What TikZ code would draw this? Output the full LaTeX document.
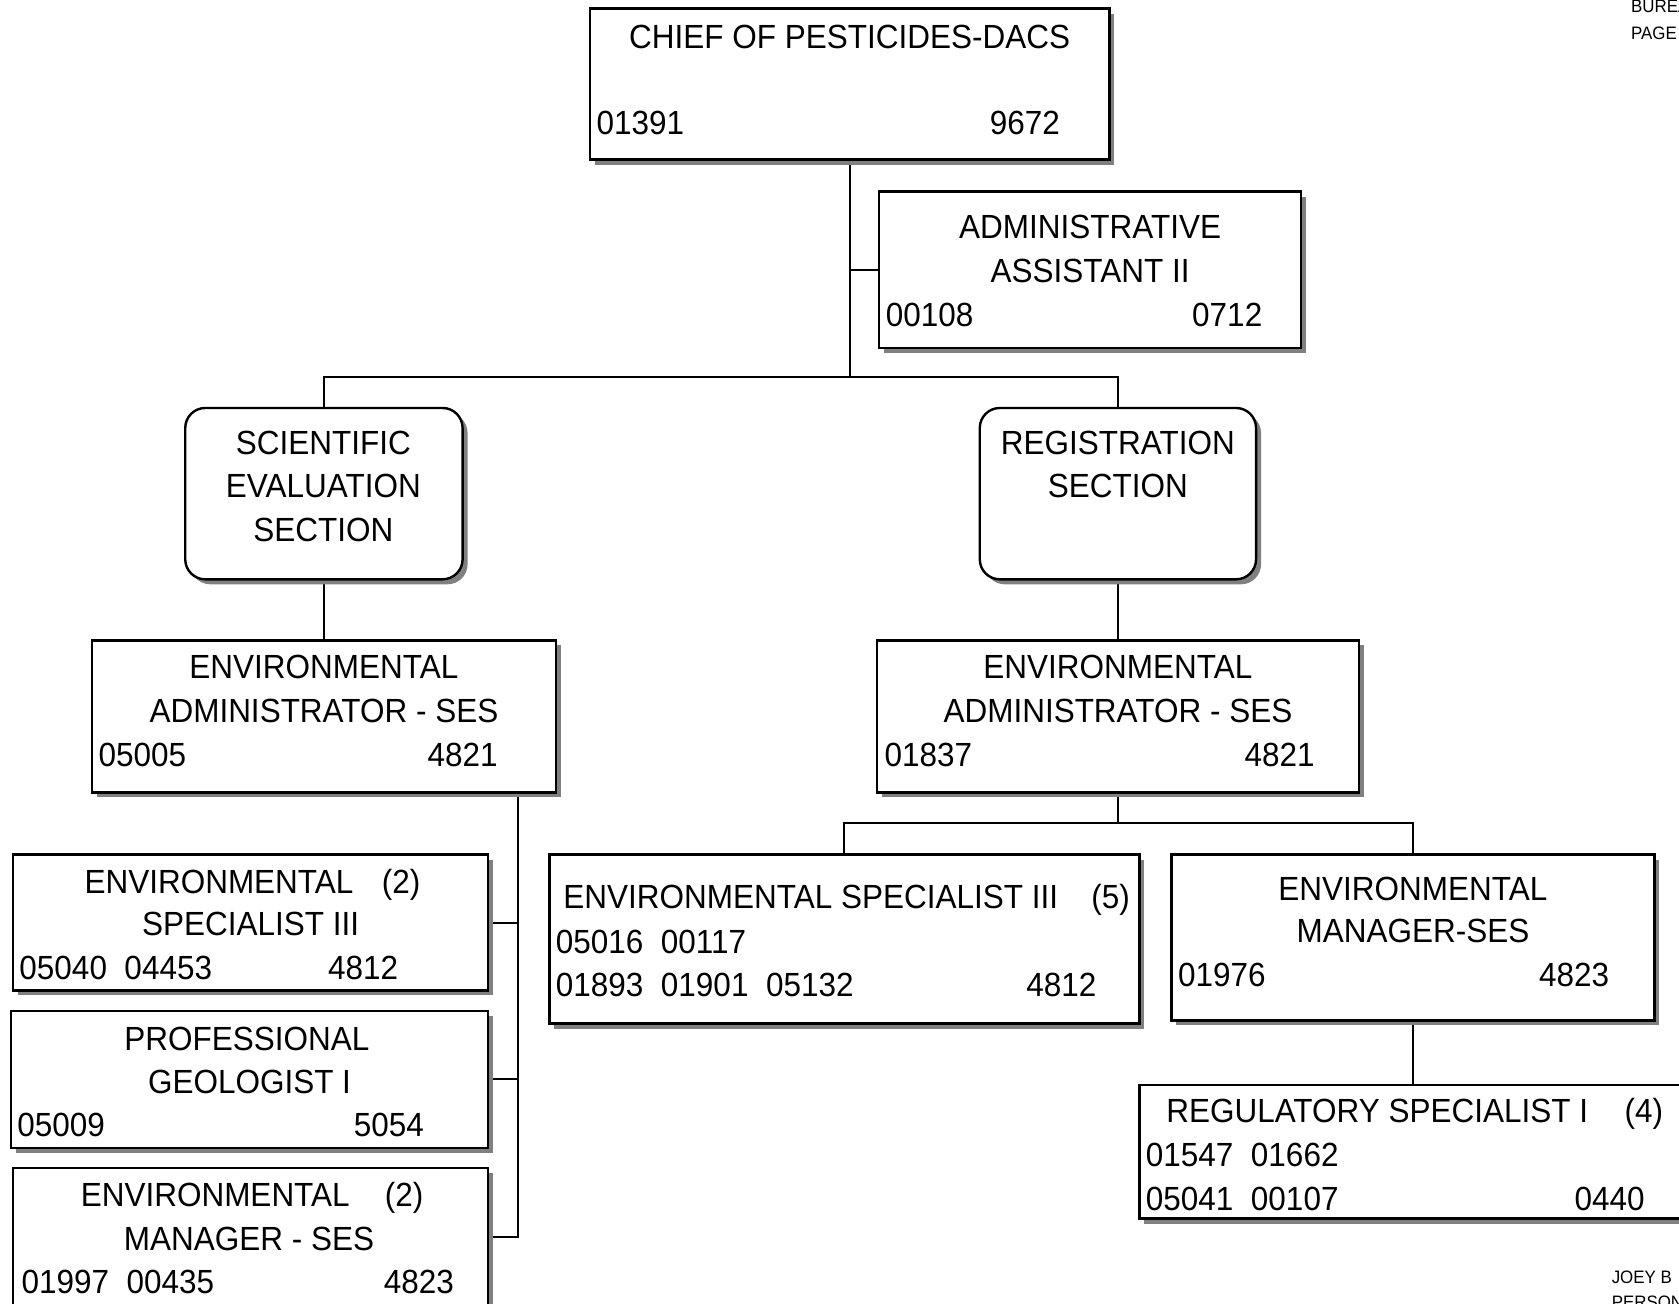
\documentclass[tikz,border=0pt]{standalone}
\usepackage{fontspec}
\setmainfont{Liberation Sans}[FakeStretch=0.94]
\usetikzlibrary{fit,shadows}
\pgfdeclarelayer{paper}
\pgfdeclarelayer{wires}
\pgfsetlayers{paper,wires,main}
\begin{document}
\begin{tikzpicture}[x=1.0708pt,y=-1.0708pt,
  box/.style={draw=black, line width=2.4pt, fill=white, inner sep=0pt, outer sep=0pt,
    drop shadow={shadow xshift=5pt, shadow yshift=-5pt, fill=black!50, opacity=1}},
  sect/.style={box, rounded corners=20pt},
  link/.style={draw=black, line width=2pt},
  t/.style={inner sep=0pt, font=\fontsize{33.5}{40}\selectfont, anchor=base},
  tl/.style={t, anchor=base west},
  tr/.style={t, anchor=base east},
  note/.style={inner sep=0pt, font=\fontsize{18}{21}\selectfont, anchor=base west},
]
\useasboundingbox (0,0) rectangle (1568,1217);
\clip (0,0) rectangle (1568,1217);
\begin{pgfonlayer}{paper}
  \fill[white] (0,0) rectangle (1568,1217);
\end{pgfonlayer}

% ---------- boxes ----------
\node[box, fit={(551,8) (1036,149)}] (chief) {};
\node[box, fit={(821,179) (1215,325)}] (admin) {};
\node[sect, fit={(173,381) (432,541)}] (scisec) {};
\node[sect, fit={(915,381) (1173,541)}] (regsec) {};
\node[box, fit={(86,598) (519,740)}] (envadmL) {};
\node[box, fit={(819,598) (1269,740)}] (envadmR) {};
\node[box, fit={(12,798) (456,925)}] (specL) {};
\node[box, fit={(10,944) (456,1072)}] (geoL) {};
\node[box, fit={(12,1091) (456,1245)}] (mgrL) {};
\node[box, fit={(513,798) (1064,956)}] (specR) {};
\node[box, fit={(1094,798) (1545,953)}] (mgrR) {};
\node[box, fit={(1064,1013) (1590,1138)}] (regspec) {};

% ---------- connectors ----------
\coordinate (tbar) at (793.5,352);
\coordinate (lspine) at (484,1155);
\coordinate (rbar) at (1044,769);
\begin{pgfonlayer}{wires}
  \draw[link] (chief.south) -- (chief.south |- tbar);
  \draw[link] (chief.south |- admin.west) -- (admin.west);
  \draw[link] (scisec.north) |- (tbar) -| (regsec.north);
  \draw[link] (scisec.south) -- (envadmL.north);
  \draw[link] (regsec.south) -- (envadmR.north);
  \draw[link] (lspine |- envadmL.south) -- (lspine) -- (mgrL.east |- lspine);
  \draw[link] (lspine |- specL.east) -- (specL.east);
  \draw[link] (lspine |- geoL.east) -- (geoL.east);
  \draw[link] (envadmR.south) -- (rbar);
  \draw[link] (specR.north) |- (rbar) -| (mgrR.north);
  \draw[link] (mgrR.south) -- (mgrR.south |- regspec.north);
\end{pgfonlayer}

% ---------- texts ----------
\node[t]  (chief1) at (793.5,45) {CHIEF OF PESTICIDES-DACS};
\node[tl] (chief2) at (557,126) {01391};
\node[tr] (chief3) at (990,126) {9672};

\node[t]  (admin1) at (1018,223) {ADMINISTRATIVE};
\node[t]  (admin2) at (1018,264) {ASSISTANT II};
\node[tl] (admin3) at (827,305) {00108};
\node[tr] (admin4) at (1179,305) {0712};

\node[t] (sci1) at (302,424) {SCIENTIFIC};
\node[t] (sci2) at (302,465) {EVALUATION};
\node[t] (sci3) at (302,506) {SECTION};

\node[t] (reg1) at (1044,424) {REGISTRATION};
\node[t] (reg2) at (1044,465) {SECTION};

\node[t]  (eal1) at (302.5,634) {ENVIRONMENTAL};
\node[t]  (eal2) at (302.5,675) {ADMINISTRATOR - SES};
\node[tl] (eal3) at (92,716) {05005};
\node[tr] (eal4) at (465,716) {4821};

\node[t]  (ear1) at (1044,634) {ENVIRONMENTAL};
\node[t]  (ear2) at (1044,675) {ADMINISTRATOR - SES};
\node[tl] (ear3) at (826,716) {01837};
\node[tr] (ear4) at (1228,716) {4821};

\node[t]  (sl1) at (204.5,834) {ENVIRONMENTAL};
\node[t]  (sl2) at (374.5,834) {(2)};
\node[t]  (sl3) at (234,874) {SPECIALIST III};
\node[tl] (sl4) at (18,915) {05040\ \ 04453};
\node[tr] (sl5) at (372,915) {4812};

\node[t]  (gl1) at (230.5,981) {PROFESSIONAL};
\node[t]  (gl2) at (233,1021) {GEOLOGIST I};
\node[tl] (gl3) at (16,1061) {05009};
\node[tr] (gl4) at (396,1061) {5054};

\node[t]  (ml1) at (201,1127) {ENVIRONMENTAL};
\node[t]  (ml2) at (377.5,1127) {(2)};
\node[t]  (ml3) at (232.5,1168) {MANAGER - SES};
\node[tl] (ml4) at (20,1208) {01997\ \ 00435};
\node[tr] (ml5) at (424,1208) {4823};

\node[tl] (sr1) at (526,848) {ENVIRONMENTAL SPECIALIST III};
\node[tl] (sr2) at (1019,848) {(5)};
\node[tl] (sr3) at (519,890) {05016\ \ 00117};
\node[tl] (sr4) at (519,931) {01893\ \ 01901\ \ 05132};
\node[tr] (sr5) at (1024,931) {4812};

\node[t]  (mr1) at (1319.5,841) {ENVIRONMENTAL};
\node[t]  (mr2) at (1319.5,880) {MANAGER-SES};
\node[tl] (mr3) at (1100,921) {01976};
\node[tr] (mr4) at (1503,921) {4823};

\node[tl] (rs1) at (1089,1048) {REGULATORY SPECIALIST I};
\node[tl] (rs2) at (1517,1048) {(4)};
\node[tl] (rs3) at (1070,1089) {01547\ \ 01662};
\node[tl] (rs4) at (1070,1130) {05041\ \ 00107};
\node[tr] (rs5) at (1536,1130) {0440};

% ---------- page notes ----------
\node[note] (n1) at (1523,12) {BUREAU};
\node[note] (n2) at (1523,37) {PAGE};
\node[note] (n3) at (1505,1199) {JOEY B};
\node[note] (n4) at (1505,1222) {PERSONNEL};
\end{tikzpicture}
\end{document}
